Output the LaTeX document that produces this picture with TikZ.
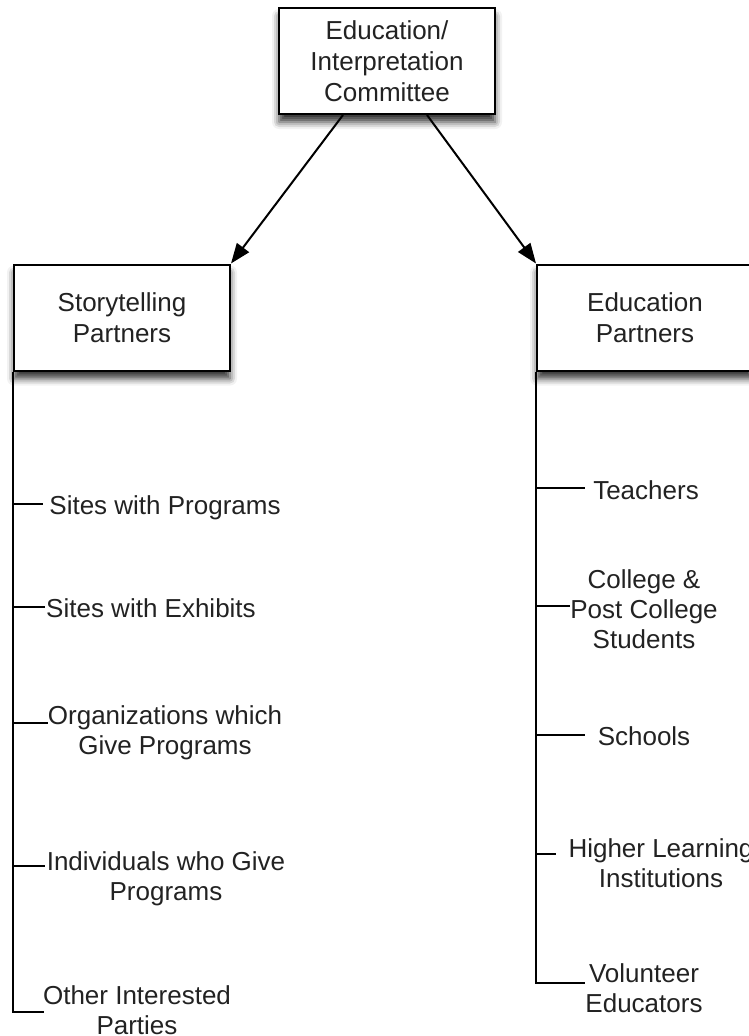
\documentclass[tikz,border=0pt]{standalone}
\usepackage{fontspec}
\setmainfont{Liberation Sans}
\usetikzlibrary{arrows.meta,shadows.blur,calc}
\definecolor{txt}{HTML}{222222}
\begin{document}
\begin{tikzpicture}[x=1pt,y=-1pt,
  box/.style={draw=black,line width=2pt,fill=white,minimum width=216pt,minimum height=106pt,
    inner sep=0pt,align=center,text=txt,font=\fontsize{26}{31}\selectfont,
    blur shadow={shadow xshift=0pt,shadow yshift=-8pt,shadow blur radius=7pt,shadow opacity=80}},
  item/.style={inner sep=0pt,align=center,anchor=north,text=txt,font=\fontsize{26}{30}\selectfont},
  conn/.style={line width=2pt,black},
  arr/.style={line width=2pt,black,-{Triangle[length=20pt,width=15pt]}}]
\useasboundingbox (0,0) rectangle (748,1036);

\node[box] (top) at (387,61) {Education/\\Interpretation\\Committee};
\node[box] (left) at (122,317.5) {Storytelling\\Partners};
\node[box] (right) at (645,317.5) {Education\\Partners};

\draw[arr] ($(top.south)+(-44,0)$) -- (left.north east);
\draw[arr] ($(top.south)+(40,0)$) -- (right.north west);

% left list
\node[item] (l1) at (165,495) {Sites with Programs};
\node[item] (l2) at (151,598) {Sites with Exhibits};
\node[item] (l3) at (165,705) {Organizations which\\Give Programs};
\node[item] (l4) at (166,851) {Individuals who Give\\Programs};
\node[item] (l5) at (137,985) {Other Interested\\Parties};

\coordinate (lb1) at (43,504);
\coordinate (lb2) at (45,607);
\coordinate (lb3) at (48,723);
\coordinate (lb4) at (45,866);
\coordinate (lb5) at (44,1012);

\draw[conn] (left.south west) -- (left.south west |- lb5) -- (lb5);
\foreach \b in {lb1,lb2,lb3,lb4}
  \draw[conn] (left.south west |- \b) -- (\b);

% right list
\node[item] (r1) at (646,480) {Teachers};
\node[item] (r2) at (644,569) {College \&\\Post College\\Students};
\node[item] (r3) at (644,726) {Schools};
\node[item] (r4) at (661,838) {Higher Learning\\Institutions};
\node[item] (r5) at (644,963) {Volunteer\\Educators};

\coordinate (rb1) at (585,488);
\coordinate (rb2) at (570,606);
\coordinate (rb3) at (585,735);
\coordinate (rb4) at (556,854);
\coordinate (rb5) at (585,983);

\draw[conn] (right.south west) -- (right.south west |- rb5) -- (rb5);
\foreach \b in {rb1,rb2,rb3,rb4}
  \draw[conn] (right.south west |- \b) -- (\b);
\end{tikzpicture}
\end{document}
